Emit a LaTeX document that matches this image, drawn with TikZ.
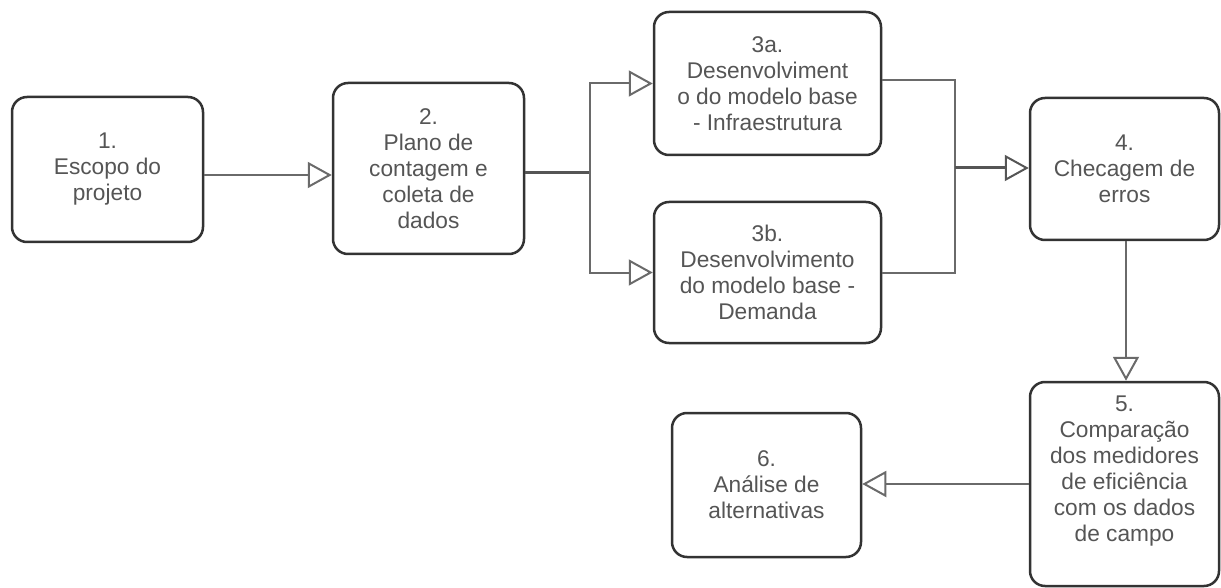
\documentclass[tikz,border=0pt]{standalone}
\usepackage{fontspec}
\setmainfont{Liberation Sans}
\usetikzlibrary{arrows.meta}
\definecolor{txt}{HTML}{555555}
\definecolor{bord}{HTML}{333333}
\definecolor{ln}{HTML}{6A6A6A}
\begin{document}
\begin{tikzpicture}[x=1pt,y=-1pt,
  box/.style={draw=bord, line width=2.5pt, rounded corners=15pt, fill=white, align=center,
    text=txt, font=\fontsize{22.7}{26}\selectfont, inner sep=0pt,
    execute at begin node={\rule{0pt}{27pt}}},
  conn/.style={draw=ln, line width=2pt},
  thick conn/.style={draw=ln!80!black, line width=3pt},
  tip/.style={-{Triangle[fill=white, line width=2pt, length=24pt, width=26pt]}}]
\useasboundingbox (0,0) rectangle (1221,588);

\node[box, minimum width=191pt, minimum height=145pt] (n1) at (107.5,169.5) {1.\\Escopo do\\projeto};
\node[box, minimum width=191pt, minimum height=171pt] (n2) at (428.5,168.5) {2.\\Plano de\\contagem e\\coleta de\\dados};
\node[box, minimum width=227pt, minimum height=143pt] (n3a) at (767.5,83.5) {3a.\\Desenvolviment\\o do modelo base\\- Infraestrutura};
\node[box, minimum width=227pt, minimum height=141pt] (n3b) at (767.5,272.5) {3b.\\Desenvolvimento\\do modelo base -\\Demanda};
\node[box, minimum width=189pt, minimum height=142pt] (n4) at (1124.5,169) {4.\\Checagem de\\erros};
\node[box, minimum width=189pt, minimum height=204pt] (n5) at (1124.5,484) {5.\\Comparação\\dos medidores\\de eficiência\\com os dados\\de campo\\[4pt]};
\node[box, minimum width=189pt, minimum height=144pt] (n6) at (766.5,485) {6.\\Análise de\\alternativas};

\draw[conn,tip] ([yshift=-5.5pt]n1.east) coordinate (a1) -- (a1 -| n2.west);

\coordinate (j) at (590,173);
\draw[thick conn] (n2.east |- j) -- (j);
\draw[conn,tip] (j) |- (n3a.west);
\draw[conn,tip] (j) |- (n3b.west);

\coordinate (m) at (955,168);
\draw[conn] ([yshift=3.5pt]n3a.east) -| (m);
\draw[conn] (n3b.east) -| (m);
\draw[thick conn,tip] (m) -- (m -| n4.west);

\coordinate (v) at (1126,0);
\draw[conn,tip] (n4.south -| v) -- (n5.north -| v);
\draw[conn,tip] (n5.west) -- (n5.west -| n6.east);
\end{tikzpicture}
\end{document}
